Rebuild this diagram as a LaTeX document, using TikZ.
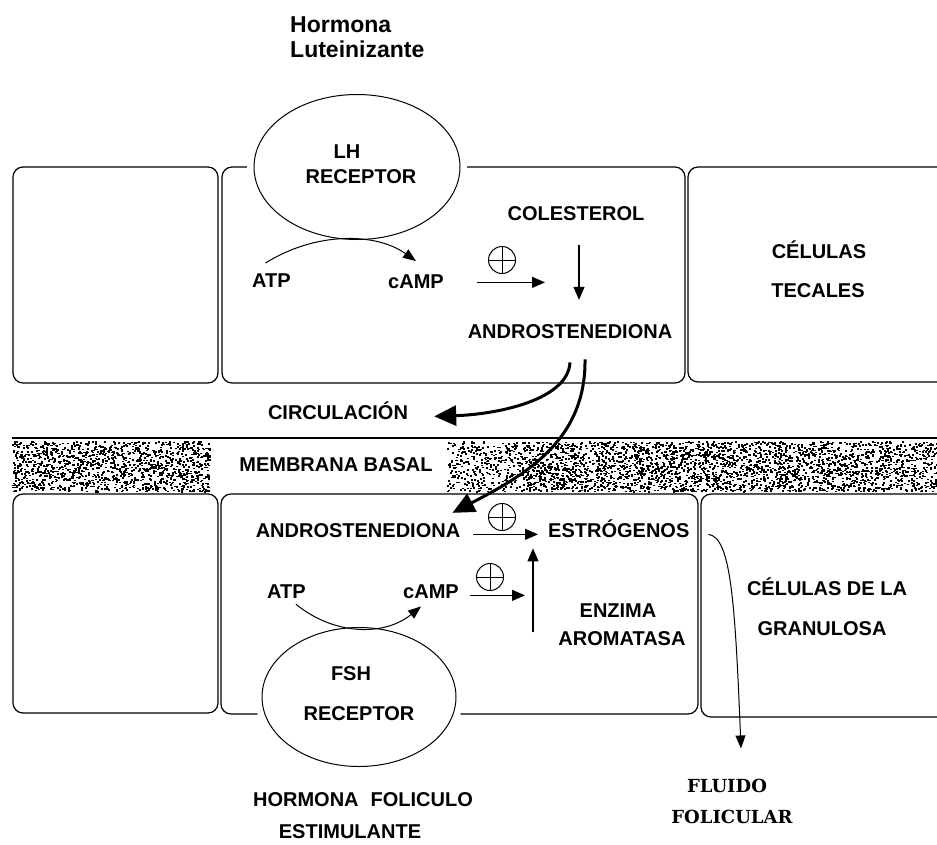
\documentclass[tikz,border=0pt]{standalone}
\usepackage{fontspec}
\setmainfont{Liberation Sans}
\newfontfamily\slabfont{DejaVu Serif}
\usetikzlibrary{arrows.meta,calc,shapes.geometric}
\tikzset{
  cell/.style     = {draw, line width=1.2pt, rounded corners=10pt},
  receptor/.style = {ellipse, draw, line width=1pt, fill=white, inner sep=0pt,
                     preaction={draw=white, line width=14pt}},
  lbl/.style      = {inner sep=0pt, anchor=base, font=\fontsize{20}{24}\selectfont\bfseries},
  hlbl/.style     = {inner sep=0pt, anchor=base west, font=\fontsize{23}{27}\selectfont\bfseries},
  slab/.style     = {inner sep=0pt, anchor=base, font=\slabfont\bfseries\fontsize{18}{22}\selectfont},
  plusc/.style    = {circle, draw, line width=1pt, minimum size=27pt, inner sep=0pt,
                     path picture={\draw[line width=1pt]
                       (path picture bounding box.north) -- (path picture bounding box.south)
                       (path picture bounding box.west) -- (path picture bounding box.east);}},
  arr/.style      = {-{Triangle[length=13pt,width=11pt]}, line width=1.2pt},
  curv/.style     = {-{Triangle[length=13pt,width=10pt]}, line width=1pt},
  bigarr/.style   = {-{Triangle[length=22pt,width=20pt]}, line width=3pt},
}

\begin{document}
\begin{tikzpicture}[x=1pt,y=-1pt]
  \useasboundingbox (0,0) rectangle (937,844);
  \clip (0,0) rectangle (937,844);

  % cells: theca (top) and granulosa (bottom)
  \draw[cell] (13,167) rectangle (218,383);
  \draw[cell] (222,167) rectangle (685,383);
  \draw[cell] (688,167) rectangle (955,382);
  \draw[cell] (13,494) rectangle (218,713);
  \draw[cell] (221,494) rectangle (698,714);
  \draw[cell] (701,494) rectangle (955,717);

  % basal membrane
  \draw[line width=1.2pt] (12,438) -- (937,438);
  \pgfmathsetseed{11}
  \foreach \k in {1,...,1400}{
    \pgfmathsetmacro\sx{12+198*rnd}\pgfmathsetmacro\sy{441+50*rnd}
    \fill (\sx,\sy) rectangle ++(2,1.6);}
  \foreach \k in {1,...,330}{
    \pgfmathsetmacro\sx{447+73*rnd}\pgfmathsetmacro\sy{441+50*rnd}
    \fill (\sx,\sy) rectangle ++(2,1.6);}
  \foreach \k in {1,...,3000}{
    \pgfmathsetmacro\sx{520+417*rnd}\pgfmathsetmacro\sy{441+50*rnd}
    \fill (\sx,\sy) rectangle ++(2,1.6);}

  % receptors
  \node[receptor, minimum width=206pt, minimum height=145pt] (lhR) at (357,167) {};
  \node[receptor, minimum width=194pt, minimum height=139pt] (fshR) at (359,697) {};

  % labels
  \node[hlbl] (hormLH) at (290,32) {Hormona};
  \node[hlbl] (lutLH)  at (290,57) {Luteinizante};
  \node[lbl] (lhT)   at (347,158) {LH};
  \node[lbl] (recT)  at (361,183) {RECEPTOR};
  \node[lbl] (colT)  at (576,220) {COLESTEROL};
  \node[lbl, anchor=base west] (atpT)  at (252,287) {ATP};
  \node[lbl, anchor=base west] (campT) at (388,288) {cAMP};
  \node[lbl] (androT) at (570,338) {ANDROSTENEDIONA};
  \node[lbl] (celT)  at (819,258) {CÉLULAS};
  \node[lbl] (tecT)  at (818,297) {TECALES};
  \node[lbl] (circT) at (338,419) {CIRCULACIÓN};
  \node[lbl] (memT)  at (336,471) {MEMBRANA BASAL};
  \node[lbl] (androB) at (358,537) {ANDROSTENEDIONA};
  \node[lbl, anchor=base west] (estrT) at (548,537) {ESTRÓGENOS};
  \node[lbl, anchor=base west] (atpB)  at (267,598) {ATP};
  \node[lbl, anchor=base west] (campB) at (403,598) {cAMP};
  \node[lbl] (enzT)  at (618,617) {ENZIMA};
  \node[lbl] (aroT)  at (622,645) {AROMATASA};
  \node[lbl] (fshT)  at (351,680) {FSH};
  \node[lbl] (recB)  at (359,720) {RECEPTOR};
  \node[lbl] (celB)  at (827,595) {CÉLULAS DE LA};
  \node[lbl] (granT) at (822,635) {GRANULOSA};
  \node[lbl] (hormF) at (363,806) {HORMONA\hspace{0.6em}FOLICULO};
  \node[lbl] (estT)  at (350,838) {ESTIMULANTE};
  \node[slab] (fluT) at (727,792) {FLUIDO};
  \node[slab] (folT) at (732,823) {FOLICULAR};

  % activation signs
  \node[plusc] (plusT)  at (502,260) {};
  \node[plusc] (plusB1) at (502,517) {};
  \node[plusc] (plusB2) at (490,577) {};

  % theca pathway
  \draw[curv] ([xshift=-6pt,yshift=10pt]atpT.north) .. controls (315,232) and (375,232)
      .. ([yshift=13pt]campT.north);
  \draw[arr, shorten <=33pt, shorten >=34pt] ([yshift=3pt]campT.mid east)
      -- ([xshift=3pt,yshift=3pt]colT.south |- campT.mid east);
  \draw[arr, shorten <=25pt, shorten >=24pt] ([xshift=3pt]colT.south)
      -- ([xshift=3pt]colT.south |- androT.north);
  \draw[bigarr] ([yshift=-24pt]androT.south) .. controls +(-2,38) and +(62,-2)
      .. ([xshift=26pt]circT.mid east);
  \draw[bigarr] ([xshift=15pt,yshift=-21pt]androT.south) .. controls +(1,81) and +(73,-38)
      .. ([xshift=-8pt,yshift=10pt]androB.north east);

  % granulosa pathway
  \draw[curv] ([xshift=-10pt,yshift=-6pt]atpB.south east) .. controls (335,636) and (385,636)
      .. ([xshift=-10pt,yshift=-8pt]campB.south);
  \draw[arr, shorten <=13pt, shorten >=10pt] (androB.mid east) -- (estrT.mid west);
  \draw[arr, shorten <=11pt, shorten >=8pt] (campB.mid east)
      -- ([xshift=-15pt]estrT.south west |- campB.mid east);
  \draw[arr] ([xshift=-15pt,yshift=-95pt]estrT.south west)
      -- ([xshift=-15pt,yshift=-11pt]estrT.south west);
  \draw[curv] ([xshift=19pt]estrT.mid east) .. controls +(22,3) and +(-6,-150)
      .. ([xshift=14pt,yshift=30pt]fluT.north);
\end{tikzpicture}
\end{document}
